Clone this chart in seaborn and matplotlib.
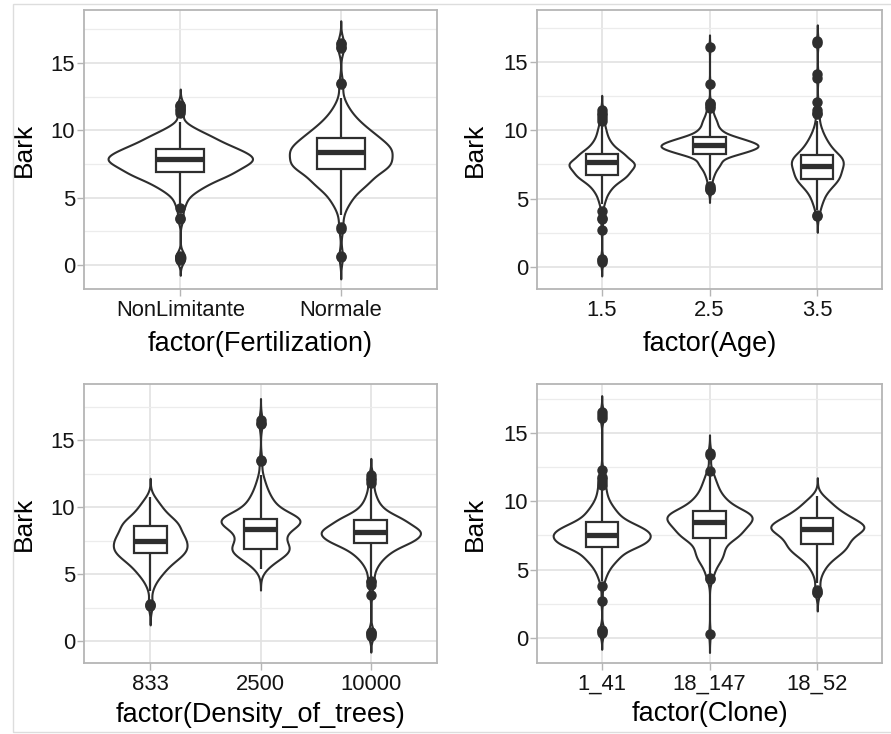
import numpy as np
import pandas as pd
import matplotlib
matplotlib.use("Agg")
import matplotlib.pyplot as plt
from matplotlib.patches import Rectangle
from matplotlib.ticker import MultipleLocator
import seaborn as sns

# ---- data (bark values, with how many trees at each) ----
fert_levels = ["NonLimitante", "Normale"]
fert_nonlim_bark = [4.5, 5.0, 5.5, 6.0, 6.5, 6.93, 7.4, 7.85, 8.25, 8.61, 9.0, 9.5, 10.0, 10.3, 10.6]
fert_nonlim_n = [2, 3, 7, 12, 17, 21, 26, 29, 22, 18, 17, 15, 7, 2, 1]
fert_nonlim_out = [0.4, 0.5, 0.6, 0.7, 3.4, 3.5, 4.2, 11.3, 11.5, 11.8, 11.9]
fert_normale_bark = [3.7, 4.1, 4.8, 5.6, 6.3, 7.1, 7.7, 8.37, 8.9, 9.46, 10.0, 10.5, 11.0, 11.5, 12.0, 12.4]
fert_normale_n = [1, 2, 7, 12, 20, 27, 28, 28, 22, 19, 13, 9, 6, 4, 2, 1]
fert_normale_out = [0.6, 0.7, 2.7, 2.8, 13.4, 13.5, 16.1, 16.2, 16.4, 16.5]

age_levels = ["1.5", "2.5", "3.5"]
age15_bark = [4.6, 5.0, 5.5, 5.9, 6.3, 6.72, 7.2, 7.65, 8.25, 8.8, 9.3, 9.8, 10.2, 10.5]
age15_n = [2, 4, 7, 9, 16, 28, 30, 40, 30, 14, 8, 5, 3, 1]
age15_out = [0.4, 0.5, 0.6, 2.7, 3.5, 3.6, 4.1, 10.7, 10.9, 11.1, 11.3, 11.5]
age25_bark = [6.4, 6.85, 7.3, 7.7, 8.25, 8.6, 8.89, 9.2, 9.52, 10.0, 10.5, 10.9, 11.3]
age25_n = [3, 5, 8, 12, 26, 30, 40, 27, 22, 12, 8, 5, 3]
age25_out = [5.6, 5.7, 5.8, 5.9, 11.6, 11.8, 11.9, 12.0, 13.4, 16.1]
age35_bark = [4.2, 4.6, 5.0, 5.5, 6.0, 6.45, 6.9, 7.38, 7.8, 8.2, 8.7, 9.2, 9.7, 10.2, 10.7]
age35_n = [2, 4, 6, 11, 17, 22, 24, 26, 24, 22, 16, 11, 7, 4, 2]
age35_out = [3.75, 3.8, 11.2, 11.3, 11.5, 12.1, 13.8, 14.1, 16.4, 16.5]

dens_levels = ["833", "2500", "10000"]
dens833_bark = [3.7, 4.2, 4.75, 5.25, 5.75, 6.15, 6.55, 7.0, 7.5, 8.0, 8.55, 9.0, 9.5, 10.0, 10.4, 10.75]
dens833_n = [1, 3, 6, 10, 12, 14, 20, 24, 24, 22, 20, 16, 11, 7, 4, 2]
dens833_out = [2.6, 2.7, 2.8]
dens2500_bark = [5.4, 5.8, 6.3, 6.83, 7.3, 7.8, 8.37, 8.9, 9.12, 9.6, 10.2, 10.8, 11.4, 12.0, 12.4]
dens2500_n = [3, 7, 16, 26, 14, 16, 22, 24, 24, 16, 12, 8, 5, 3, 1]
dens2500_out = [13.4, 13.5, 16.2, 16.3, 16.5]
dens10000_bark = [4.8, 5.3, 5.8, 6.3, 6.8, 7.3, 7.7, 8.17, 8.6, 9.05, 9.5, 10.0, 10.5, 11.0, 11.5]
dens10000_n = [1, 3, 5, 9, 14, 22, 26, 34, 20, 22, 11, 7, 4, 3, 1]
dens10000_out = [0.4, 0.5, 0.6, 0.7, 3.4, 4.2, 4.4, 4.5, 11.8, 12.0, 12.2, 12.4]

clone_levels = ["1_41", "18_147", "18_52"]
clone141_bark = [4.2, 4.6, 5.1, 5.6, 6.1, 6.69, 7.1, 7.55, 8.0, 8.45, 9.0, 9.5, 10.0, 10.5, 10.9]
clone141_n = [1, 3, 5, 9, 14, 24, 26, 32, 26, 18, 12, 8, 5, 3, 2]
clone141_out = [0.4, 0.5, 0.6, 2.7, 3.8, 11.2, 11.4, 11.6, 11.8, 12.3, 16.1, 16.3, 16.5]
clone18147_bark = [4.6, 5.0, 5.5, 6.0, 6.6, 7.33, 7.9, 8.48, 9.0, 9.26, 9.8, 10.4, 11.0, 11.5, 12.0]
clone18147_n = [1, 3, 6, 10, 12, 22, 24, 30, 26, 14, 16, 10, 6, 4, 2]
clone18147_out = [0.3, 4.35, 4.4, 12.2, 13.4, 13.5]
clone1852_bark = [4.0, 4.5, 5.0, 5.5, 6.0, 6.4, 6.84, 7.4, 7.94, 8.3, 8.8, 9.3, 9.8, 10.1, 10.4]
clone1852_n = [1, 2, 4, 7, 11, 14, 20, 24, 28, 26, 22, 14, 8, 4, 2]
clone1852_out = [3.3, 3.4, 3.5]


def make_frame(levels, barks, counts, outs):
    parts = []
    for lvl, b, c, o in zip(levels, barks, counts, outs):
        vals = np.concatenate([np.repeat(b, c), o])
        parts.append(pd.DataFrame({"group": lvl, "Bark": vals}))
    return pd.concat(parts, ignore_index=True)


def nrd0(kde):
    # same bandwidth rule as R's bw.nrd0 (ggplot default)
    x = kde.dataset[0]
    sd = x.std(ddof=1)
    q75, q25 = np.percentile(x, [75, 25])
    h = 0.9 * min(sd, (q75 - q25) / 1.34) * len(x) ** -0.2
    return h / sd


plt.rcParams["font.family"] = ["Liberation Sans", "DejaVu Sans"]

W, H = 891, 734
fig = plt.figure(figsize=(W / 100, H / 100), dpi=100)
fig.add_artist(Rectangle((13 / W, 2 / H), 1, 728 / H, transform=fig.transFigure,
                         fill=False, ec="#dddddd", lw=1))

# (levels, frame, x title, [left, top, right, bottom] px, ylim, ylabel right px, xlabel top px)
panels = [
    (fert_levels, make_frame(fert_levels, [fert_nonlim_bark, fert_normale_bark],
                             [fert_nonlim_n, fert_normale_n], [fert_nonlim_out, fert_normale_out]),
     "factor(Fertilization)", [84, 10, 437, 289], (-1.78, 18.93), 36, 331),
    (age_levels, make_frame(age_levels, [age15_bark, age25_bark, age35_bark],
                            [age15_n, age25_n, age35_n], [age15_out, age25_out, age35_out]),
     "factor(Age)", [537, 10, 882, 289], (-1.61, 18.80), 487, 331),
    (dens_levels, make_frame(dens_levels, [dens833_bark, dens2500_bark, dens10000_bark],
                             [dens833_n, dens2500_n, dens10000_n], [dens833_out, dens2500_out, dens10000_out]),
     "factor(Density_of_trees)", [84, 384, 437, 663], (-1.64, 19.18), 36, 702),
    (clone_levels, make_frame(clone_levels, [clone141_bark, clone18147_bark, clone1852_bark],
                              [clone141_n, clone18147_n, clone1852_n], [clone141_out, clone18147_out, clone1852_out]),
     "factor(Clone)", [537, 384, 882, 663], (-1.83, 18.58), 487, 701),
]

ink = "#2e2e2e"
for levels, df, xtitle, (l, t, r, b), ylim, ylab_px, xlab_px in panels:
    ax = fig.add_axes([l / W, 1 - b / H, (r - l) / W, (b - t) / H])
    sns.violinplot(data=df, x="group", y="Bark", order=levels, ax=ax,
                   color="white", saturation=1, linecolor=ink, linewidth=1.5,
                   inner=None, cut=3, width=0.9, density_norm="area",
                   bw_method=nrd0, gridsize=512)
    sns.boxplot(data=df, x="group", y="Bark", order=levels, ax=ax,
                color="white", saturation=1, linecolor=ink, linewidth=1.6,
                width=0.3, whis=1.5, showcaps=False,
                medianprops={"linewidth": 3.8, "color": ink},
                flierprops={"marker": "o", "markerfacecolor": ink,
                            "markeredgecolor": ink, "markersize": 6.5})

    ax.set_xlim(-0.6, len(levels) - 0.4)
    ax.set_ylim(*ylim)
    ax.yaxis.set_major_locator(MultipleLocator(5))
    ax.yaxis.set_minor_locator(MultipleLocator(2.5))
    ax.set_axisbelow(True)
    ax.grid(which="major", color="#e2e2e2", lw=1.2)
    ax.grid(which="minor", axis="y", color="#ececec", lw=0.9)
    for s in ax.spines.values():
        s.set_color("#b5b5b5")
        s.set_linewidth(1.3)
    ax.tick_params(which="major", length=5, width=1, color="#b5b5b5",
                   labelsize=15.8, labelcolor="#141414")
    ax.tick_params(axis="x", pad=3)
    ax.tick_params(axis="y", pad=1.5)
    ax.tick_params(which="minor", length=0)

    ax.set_ylabel("Bark", fontsize=19, color="black")
    ax.yaxis.set_label_coords((ylab_px - l) / (r - l), 0.5)
    ax.set_xlabel(xtitle, fontsize=19.5, color="black")
    ax.xaxis.set_label_coords(0.5, (b - xlab_px) / (b - t))

fig.savefig("out.png", dpi=100)
